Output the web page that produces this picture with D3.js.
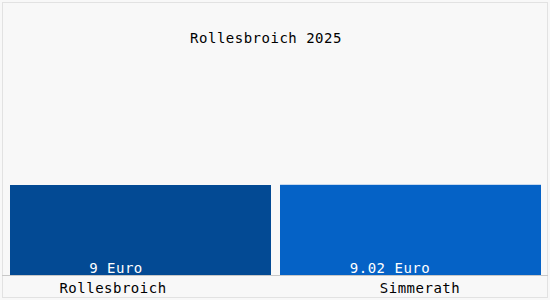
<!DOCTYPE html>
<html>
<head>
<meta charset="utf-8">
<script src="https://cdn.jsdelivr.net/npm/d3@7"></script>
<style>
  body { margin: 0; background: #fff; }
  text { font-family: "DejaVu Sans Mono", monospace; }
</style>
</head>
<body>
<script>
// chart data
var title = "Rollesbroich 2025";
var places = ["Rollesbroich", "Simmerath"];
var prices = [9, 9.02];
var priceLabels = ["9 Euro", "9.02 Euro"];
var barColors = ["#034a94", "#0562c6"];

var width = 550, height = 300;
var baseline = 275;

var svg = d3.select("body").append("svg")
    .attr("width", width)
    .attr("height", height);

// background + frame
svg.append("rect")
    .attr("width", width).attr("height", height)
    .attr("fill", "#f8f8f8");
svg.append("rect")
    .attr("x", 2.5).attr("y", 2.5)
    .attr("width", width - 5).attr("height", height - 5)
    .attr("fill", "none")
    .attr("stroke", "#e2e2e2");

var xScale = d3.scaleBand()
    .domain(places)
    .range([10, 541])
    .paddingInner(9 / 270);

var yScale = d3.scaleLinear()
    .domain([0, 27.5])
    .range([baseline, 0]);

// bars
svg.selectAll("rect.bar")
    .data(places)
    .enter().append("rect")
    .attr("class", "bar")
    .attr("x", function(d) { return xScale(d); })
    .attr("width", xScale.bandwidth())
    .attr("y", function(d, i) { return yScale(prices[i]); })
    .attr("height", function(d, i) { return baseline - yScale(prices[i]); })
    .attr("fill", function(d, i) { return barColors[i]; });

// baseline
svg.append("line")
    .attr("x1", 2).attr("x2", width - 2)
    .attr("y1", baseline + 0.5).attr("y2", baseline + 0.5)
    .attr("stroke", "#c8c8c8");

// value labels (sit a bit left of bar centre)
var valueDx = [-24.5, -20.5];
svg.selectAll("text.value")
    .data(places)
    .enter().append("text")
    .attr("class", "value")
    .attr("x", function(d, i) { return xScale(d) + xScale.bandwidth() / 2 + valueDx[i]; })
    .attr("y", baseline - 2)
    .attr("text-anchor", "middle")
    .attr("fill", "#ffffff")
    .style("font-size", "14px")
    .style("letter-spacing", "0.5px")
    .text(function(d, i) { return priceLabels[i]; });

// category labels
var labelDx = [-27.5, 9.5];
svg.selectAll("text.cat")
    .data(places)
    .enter().append("text")
    .attr("class", "cat")
    .attr("x", function(d, i) { return xScale(d) + xScale.bandwidth() / 2 + labelDx[i]; })
    .attr("y", baseline + 18)
    .attr("text-anchor", "middle")
    .attr("fill", "#000")
    .style("font-size", "14px")
    .style("letter-spacing", "0.5px")
    .text(function(d) { return d; });

// title
svg.append("text")
    .attr("x", 266)
    .attr("y", 43)
    .attr("text-anchor", "middle")
    .attr("fill", "#000")
    .style("font-size", "14px")
    .style("letter-spacing", "0.5px")
    .text(title);
</script>
</body>
</html>
